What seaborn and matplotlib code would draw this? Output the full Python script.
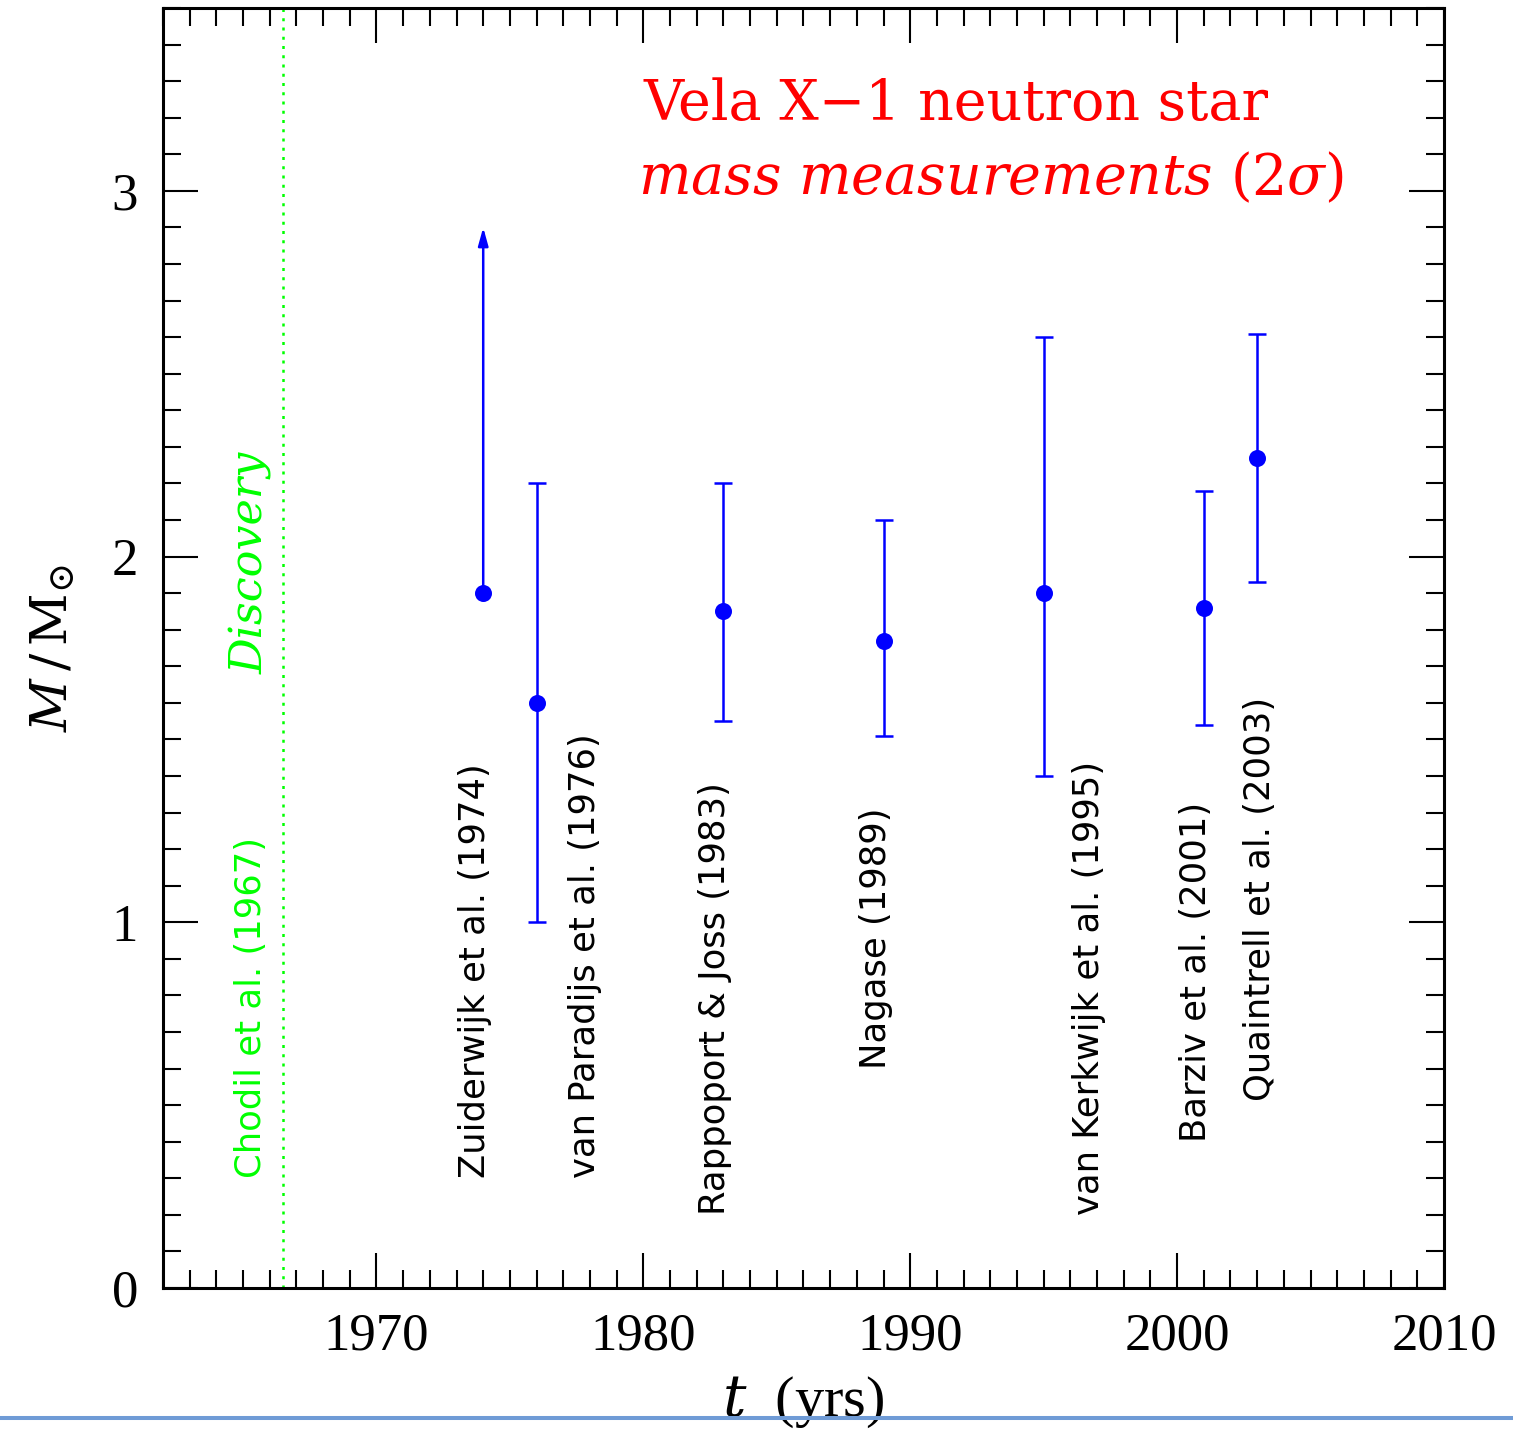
import numpy as np
import pandas as pd
import matplotlib
matplotlib.use("Agg")
import matplotlib.pyplot as plt
from matplotlib.lines import Line2D
from matplotlib.ticker import MultipleLocator
import seaborn as sns

# Vela X-1 neutron star mass measurements (2 sigma)
years = [1974, 1976, 1983, 1989, 1995, 2001, 2003]
mass = [1.90, 1.60, 1.85, 1.77, 1.90, 1.86, 2.27]
mass_lo = [np.nan, 1.00, 1.55, 1.51, 1.40, 1.54, 1.93]
mass_hi = [2.90, 2.20, 2.20, 2.10, 2.60, 2.18, 2.61]
refs = ["Zuiderwijk et al. (1974)", "van Paradijs et al. (1976)",
        "Rappoport & Joss (1983)", "Nagase (1989)",
        "van Kerkwijk et al. (1995)", "Barziv et al. (2001)",
        "Quaintrell et al. (2003)"]
# label anchor: x position (yr) and lower end (M/Msun) of the rotated text
label_x = [1973.7, 1977.8, 1982.7, 1988.7, 1996.7, 2000.7, 2003.1]
label_y = [0.30, 0.30, 0.20, 0.60, 0.20, 0.40, 0.51]

discovery_year = 1966.5
discovery_ref = "Chodil et al. (1967)"

df = pd.DataFrame({"year": years, "mass": mass, "lo": mass_lo, "hi": mass_hi})

sns.set_theme(style="ticks")
plt.rcParams["font.family"] = ["Liberation Serif", "DejaVu Serif"]
plt.rcParams["mathtext.fontset"] = "dejavuserif"
for k in ["text.color", "axes.labelcolor", "xtick.color", "ytick.color",
          "axes.edgecolor"]:
    plt.rcParams[k] = "black"

fig = plt.figure(figsize=(15.13, 14.37), dpi=100)
ax = fig.add_axes([0.1077, 0.1037, 0.9544 - 0.1077, 0.9944 - 0.1037])

blue = "#0000ff"
green = "#00ff00"

# two-sided error bars (all but the lower limit of 1974)
two = df.dropna(subset=["lo"])
ax.errorbar(two["year"], two["mass"],
            yerr=[two["mass"] - two["lo"], two["hi"] - two["mass"]],
            fmt="none", ecolor=blue, elinewidth=1.8, capsize=6.5, capthick=1.8,
            zorder=2)
# 1974: lower limit with upward arrow
one = df[df["lo"].isna()]
for _, r in one.iterrows():
    ax.annotate("", xy=(r["year"], r["hi"]), xytext=(r["year"], r["mass"]),
                arrowprops=dict(arrowstyle="-|>,head_length=0.9,head_width=0.25",
                                color=blue, lw=1.8, shrinkA=0, shrinkB=0),
                zorder=2)

sns.scatterplot(data=df, x="year", y="mass", color=blue, s=150,
                edgecolor=blue, linewidth=0, ax=ax, zorder=3, legend=False)

# reference labels
lab_size = 25.5
for x, y, t in zip(label_x, label_y, refs):
    ax.text(x, y, t, rotation=90, ha="center", va="bottom", fontsize=lab_size,
            family=["DejaVu Sans"], color="black")

# discovery
ax.axvline(discovery_year, color=green, ls=(0, (1.2, 2.5)), lw=1.8, zorder=1)
ax.text(1965.3, 0.30, discovery_ref, rotation=90, ha="center", va="bottom",
        fontsize=lab_size, family=["DejaVu Sans"], color=green)
ax.text(1965.3, 1.68, "Discovery", rotation=90, ha="center", va="bottom",
        fontsize=32, family=["DejaVu Serif"], style="italic", color=green)

# title block
ax.text(1980.0, 3.235, "Vela X\u22121 neutron star", fontsize=40, color="red",
        ha="left", va="center", family=["DejaVu Serif"])
ax.text(1979.8, 3.035, r"$mass\ measurements$ (2$\sigma$)", fontsize=40,
        color="red", ha="left", va="center", family=["DejaVu Serif"])

ax.set_xlim(1962, 2010)
ax.set_ylim(0, 3.5)
ax.xaxis.set_major_locator(MultipleLocator(10))
ax.xaxis.set_minor_locator(MultipleLocator(1))
ax.yaxis.set_major_locator(MultipleLocator(1))
ax.yaxis.set_minor_locator(MultipleLocator(0.1))
ax.tick_params(which="both", direction="in", top=True, right=True,
               bottom=True, left=True, color="black")
ax.tick_params(which="major", length=25, width=1.5, labelsize=38, pad=18)
ax.tick_params(which="minor", length=13, width=1.5)
for s in ax.spines.values():
    s.set_linewidth(2.2)
    s.set_color("black")

ax.set_xlabel(r"$t$  (yrs)", fontsize=42, labelpad=10)
ax.set_ylabel(r"$M\,/\,\mathrm{M}_{\odot}$", fontsize=37, labelpad=24)

fig.add_artist(Line2D([0, 1], [0.0132, 0.0132], transform=fig.transFigure,
                      color="#6f9bd6", lw=2.9))

fig.savefig("out.png", dpi=100, facecolor="white")
